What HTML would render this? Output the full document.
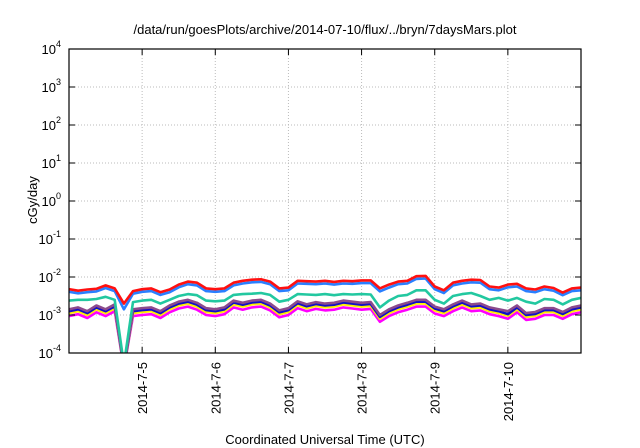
<!DOCTYPE html>
<html><head><meta charset="utf-8"><style>
body{margin:0;background:#fff;}
svg{display:block;font-family:"Liberation Sans",sans-serif;}
</style></head><body>
<svg id="chart" width="640" height="448" viewBox="0 0 640 448" xmlns="http://www.w3.org/2000/svg">
<text x="325" y="34" font-size="13" text-anchor="middle">/data/run/goesPlots/archive/2014-07-10/flux/../bryn/7daysMars.plot</text>
<text transform="translate(37,200) rotate(-90)" font-size="13" text-anchor="middle">cGy/day</text>
<text x="325" y="444" font-size="13" text-anchor="middle">Coordinated Universal Time (UTC)</text>
<g id="grid"></g><g id="series"></g><g id="axes"></g>
</svg>
<script>
const xTickLabels=["2014-7-5","2014-7-6","2014-7-7","2014-7-8","2014-7-9","2014-7-10"];
const yTickExps=[-4,-3,-2,-1,0,1,2,3,4];
const red=[-2.32,-2.36,-2.33,-2.31,-2.22,-2.3,-2.7,-2.37,-2.32,-2.3,-2.4,-2.33,-2.2,-2.12,-2.15,-2.3,-2.32,-2.3,-2.15,-2.1,-2.07,-2.06,-2.12,-2.3,-2.28,-2.1,-2.11,-2.12,-2.1,-2.13,-2.1,-2.11,-2.09,-2.09,-2.3,-2.2,-2.12,-2.1,-1.98,-1.97,-2.25,-2.35,-2.15,-2.1,-2.07,-2.08,-2.25,-2.28,-2.2,-2.18,-2.3,-2.33,-2.25,-2.29,-2.41,-2.3,-2.28];
const blue=[-2.39,-2.43,-2.4,-2.38,-2.29,-2.37,-2.85,-2.44,-2.39,-2.37,-2.47,-2.4,-2.27,-2.19,-2.22,-2.37,-2.39,-2.37,-2.22,-2.17,-2.14,-2.13,-2.19,-2.37,-2.35,-2.17,-2.18,-2.19,-2.17,-2.2,-2.17,-2.18,-2.16,-2.16,-2.38,-2.28,-2.19,-2.17,-2.05,-2.04,-2.32,-2.42,-2.22,-2.17,-2.14,-2.15,-2.32,-2.35,-2.27,-2.25,-2.37,-2.4,-2.32,-2.36,-2.48,-2.37,-2.35];
const teal=[-2.62,-2.6,-2.6,-2.58,-2.52,-2.6,-4.3,-2.66,-2.62,-2.6,-2.7,-2.6,-2.5,-2.45,-2.48,-2.62,-2.64,-2.62,-2.47,-2.45,-2.44,-2.42,-2.47,-2.65,-2.6,-2.45,-2.46,-2.47,-2.45,-2.48,-2.45,-2.46,-2.45,-2.46,-2.8,-2.62,-2.5,-2.47,-2.35,-2.35,-2.6,-2.7,-2.5,-2.45,-2.42,-2.5,-2.6,-2.55,-2.62,-2.55,-2.65,-2.7,-2.58,-2.6,-2.72,-2.6,-2.55];
const purple=[-2.85,-2.8,-2.9,-2.75,-2.85,-2.72,-4.4,-2.85,-2.82,-2.8,-2.9,-2.75,-2.65,-2.6,-2.68,-2.82,-2.85,-2.8,-2.62,-2.68,-2.62,-2.6,-2.7,-2.88,-2.82,-2.64,-2.72,-2.66,-2.7,-2.68,-2.62,-2.65,-2.68,-2.66,-3.0,-2.85,-2.75,-2.68,-2.6,-2.6,-2.78,-2.85,-2.72,-2.62,-2.72,-2.7,-2.8,-2.85,-2.9,-2.75,-2.95,-2.92,-2.82,-2.82,-2.92,-2.8,-2.75];
const navy=[-2.9,-2.85,-2.95,-2.8,-2.9,-2.77,-4.4,-2.9,-2.87,-2.85,-2.95,-2.8,-2.7,-2.65,-2.73,-2.87,-2.9,-2.85,-2.67,-2.73,-2.67,-2.65,-2.75,-2.93,-2.87,-2.69,-2.77,-2.71,-2.75,-2.73,-2.67,-2.7,-2.73,-2.71,-3.05,-2.9,-2.8,-2.73,-2.65,-2.65,-2.83,-2.9,-2.77,-2.67,-2.77,-2.75,-2.85,-2.9,-2.98,-2.8,-3.0,-2.97,-2.87,-2.87,-2.97,-2.85,-2.8];
const yellow=[-2.95,-2.9,-3.0,-2.85,-2.95,-2.82,-4.4,-2.95,-2.92,-2.9,-3.0,-2.85,-2.75,-2.7,-2.78,-2.92,-2.95,-2.9,-2.72,-2.78,-2.72,-2.7,-2.8,-2.98,-2.92,-2.74,-2.82,-2.76,-2.8,-2.78,-2.72,-2.75,-2.78,-2.76,-3.1,-2.95,-2.85,-2.78,-2.7,-2.7,-2.88,-2.95,-2.82,-2.72,-2.82,-2.8,-2.9,-2.95,-3.02,-2.85,-3.05,-3.02,-2.92,-2.92,-3.02,-2.9,-2.85];
const magenta=[-3.03,-2.98,-3.08,-2.93,-3.03,-2.9,-4.4,-3.03,-3.0,-2.98,-3.08,-2.93,-2.83,-2.78,-2.86,-3.0,-3.03,-2.98,-2.8,-2.86,-2.8,-2.78,-2.88,-3.06,-3.0,-2.82,-2.9,-2.84,-2.88,-2.86,-2.8,-2.83,-2.86,-2.84,-3.18,-3.03,-2.93,-2.86,-2.78,-2.78,-2.96,-3.03,-2.9,-2.8,-2.9,-2.88,-2.98,-3.03,-3.1,-2.93,-3.13,-3.1,-3.0,-3.0,-3.1,-2.98,-2.93];
const seriesList=[["magenta",magenta,"#ff00ff"],["yellow",yellow,"#ffee00"],["navy",navy,"#1010c8"],["purple",purple,"#8c4a8c"],["teal",teal,"#22c8a0"],["blue",blue,"#2a7fff"],["red",red,"#ff1010"]];
const L=69,R=581,T=49,B=353,NS="http://www.w3.org/2000/svg";
const xDays=7,stepDays=0.125;
function xs(d){return L+d/xDays*(R-L);}
function ys(e){return B-(e+4)/8*(B-T);}
function mk(tag,attrs,parent){const el=document.createElementNS(NS,tag);for(const k in attrs)el.setAttribute(k,attrs[k]);parent.appendChild(el);return el;}
const grid=document.getElementById('grid'),axes=document.getElementById('axes'),sg=document.getElementById('series');
yTickExps.forEach(e=>{const y=ys(e);
 if(e>-4&&e<4){const g=mk('line',{x1:L,x2:R,y1:y,y2:y,stroke:'#bbb','stroke-dasharray':'1,2','stroke-width':1},grid);}
 const t1=mk('line',{x1:L,x2:L+6,y1:y,y2:y,stroke:'#000'},axes);
 const t2=mk('line',{x1:R-6,x2:R,y1:y,y2:y,stroke:'#000'},axes);
 const tx=mk('text',{x:L-8,y:y+5,'font-size':13,'text-anchor':'end'},axes);
 
 
 tx.innerHTML='10<tspan dy="-7" font-size="9">'+e+'</tspan>';
});
xTickLabels.forEach((lab,i)=>{const x=xs(i+1);
 const g=mk('line',{x1:x,x2:x,y1:T,y2:B,stroke:'#bbb','stroke-dasharray':'1,2'},grid);
 const t1=mk('line',{x1:x,x2:x,y1:B-6,y2:B,stroke:'#000'},axes);
 const t2=mk('line',{x1:x,x2:x,y1:T,y2:T+6,stroke:'#000'},axes);
 const tx=mk('text',{transform:'translate('+(x+5)+','+(B+9)+') rotate(-90)','font-size':13,'text-anchor':'end'},axes);
 
 
 tx.textContent=lab;
});
const fr=mk('rect',{x:L,y:T,width:R-L,height:B-T,fill:'none',stroke:'#000','stroke-width':1.2},axes);


const cp=mk('clipPath',{id:'clip'},sg);mk('rect',{x:L,y:T,width:R-L,height:B-T},cp);
seriesList.forEach(([name,vals,col])=>{
 const pts=vals.map((v,i)=>xs(i*stepDays).toFixed(1)+','+ys(v).toFixed(1)).join(' ');
 const p=mk('polyline',{points:pts,fill:'none',stroke:col,'stroke-width':2.6,'stroke-linejoin':'round','clip-path':'url(#clip)'},sg);
 
 
});
</script>
</body></html>
